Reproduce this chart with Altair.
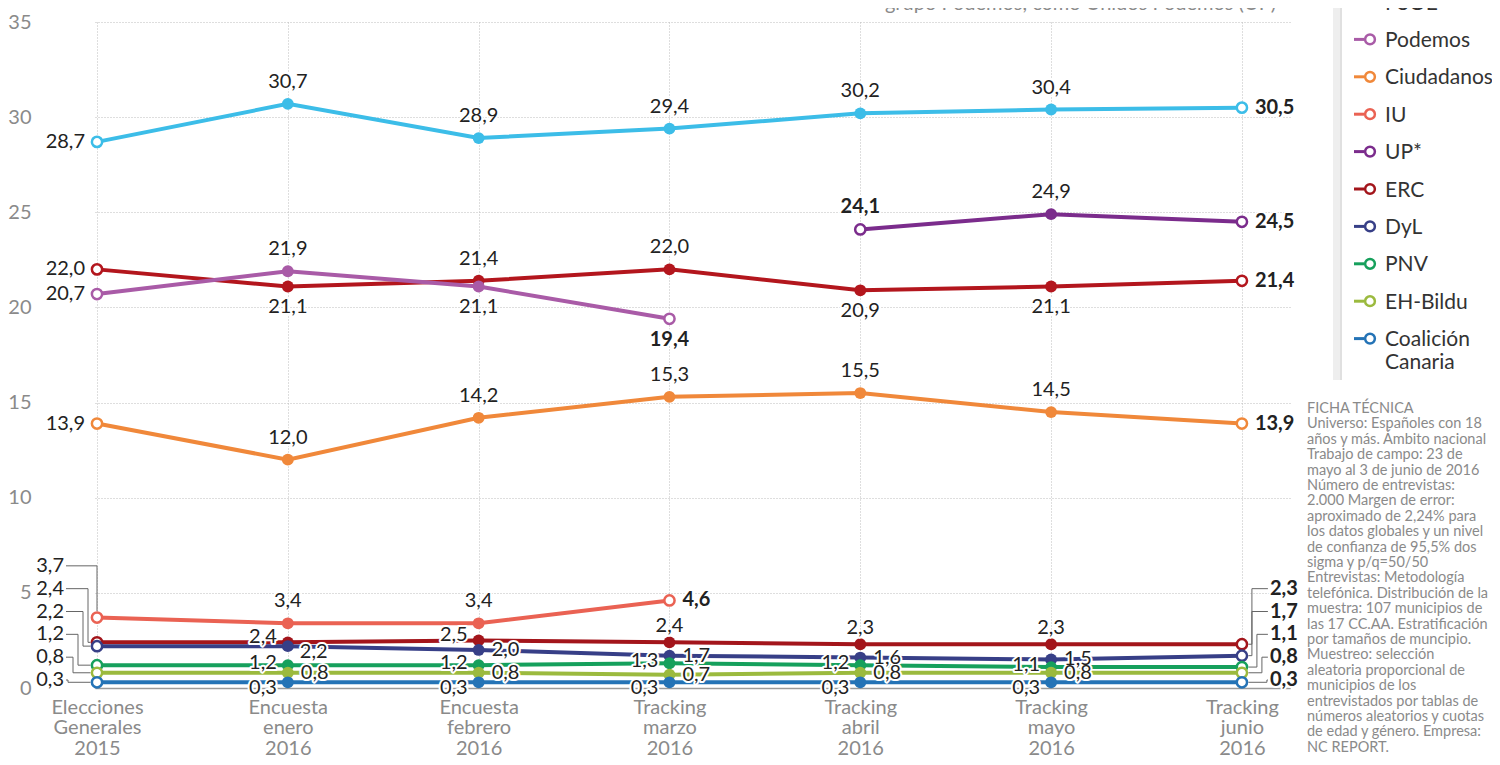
import json
import altair as alt
import pandas as pd

# ---------------- data ----------------
categories = [
    ["Elecciones", "Generales", "2015"],
    ["Encuesta", "enero", "2016"],
    ["Encuesta", "febrero", "2016"],
    ["Tracking", "marzo", "2016"],
    ["Tracking", "abril", "2016"],
    ["Tracking", "mayo", "2016"],
    ["Tracking", "junio", "2016"],
]
parties = ["PP", "PSOE", "Podemos", "Ciudadanos", "IU", "UP*", "ERC", "DyL",
           "PNV", "EH-Bildu", "Coalición Canaria"]
legend_labels = ["PP", "PSOE", "Podemos", "Ciudadanos", "IU", "UP*", "ERC", "DyL",
                 "PNV", "EH-Bildu", "Coalición\nCanaria"]
colors = ["#3cbde8", "#b3161d", "#a95ba7", "#f0883a", "#ea6253", "#7b2c8c",
          "#a3151b", "#373f87", "#16a05c", "#9bba3e", "#2473b6"]

pp = [28.7, 30.7, 28.9, 29.4, 30.2, 30.4, 30.5]
psoe = [22.0, 21.1, 21.4, 22.0, 20.9, 21.1, 21.4]
podemos = [20.7, 21.9, 21.1, 19.4, None, None, None]
ciudadanos = [13.9, 12.0, 14.2, 15.3, 15.5, 14.5, 13.9]
iu = [3.7, 3.4, 3.4, 4.6, None, None, None]
up = [None, None, None, None, 24.1, 24.9, 24.5]
erc = [2.4, 2.4, 2.5, 2.4, 2.3, 2.3, 2.3]
dyl = [2.2, 2.2, 2.0, 1.7, 1.6, 1.5, 1.7]
pnv = [1.2, 1.2, 1.2, 1.3, 1.2, 1.1, 1.1]
bildu = [0.8, 0.8, 0.8, 0.7, 0.8, 0.8, 0.8]
cc = [0.3, 0.3, 0.3, 0.3, 0.3, 0.3, 0.3]
series = dict(zip(parties, [pp, psoe, podemos, ciudadanos, iu, up, erc, dyl, pnv, bildu, cc]))

# label placement (layout only)
place = {
    "PP": ["L", "A", "A", "A", "A", "A", "R"],
    "PSOE": ["L", "B", "A", "A", "B", "B", "R"],
    "Podemos": ["L", "A", "B", "B", None, None, None],
    "Ciudadanos": ["L", "A", "A", "A", "A", "A", "R"],
    "IU": ["LL", "A", "A", "R", None, None, None],
    "UP*": [None, None, None, None, "A", "A", "R"],
    "ERC": ["LL", "Lu", "Lu", "As", "As", "As", "RL"],
    "DyL": ["LL", "Rd", "R", "R", "R", "R", "RL"],
    "PNV": ["LL", "Lc", "Lc", "Lc", "Lc", "Lc", "RL"],
    "EH-Bildu": ["LL", "R", "R", "R", "R", "R", "RL"],
    "Coalición Canaria": ["LL", "Ld", "Ld", "Ld", "Ld", "Ld", "RL"],
}
offsets = {"A": ("center", 0, -22), "As": ("center", 0, -16), "B": ("center", 0, 21),
           "L": ("right", -12, 0), "R": ("left", 13, 0), "Lu": ("right", -11, -5),
           "Lc": ("right", -11, -2), "Ld": ("right", -11, 6), "Rd": ("left", 12, 6)}

subtitle = "grupo Podemos, como Unidos Podemos (UP)"
ficha = ("FICHA TÉCNICA\nUniverso: Españoles con 18\naños y más. Ámbito nacional\n"
         "Trabajo de campo: 23 de\nmayo al 3 de junio de 2016\nNúmero de entrevistas:\n"
         "2.000 Margen de error:\naproximado de 2,24% para\nlos datos globales y un nivel\n"
         "de confianza de 95,5% dos\nsigma y p/q=50/50\nEntrevistas: Metodología\n"
         "telefónica. Distribución de la\nmuestra: 107 municipios de\nlas 17 CC.AA. Estratificación\n"
         "por tamaños de muncipio.\nMuestreo: selección\naleatoria proporcional de\n"
         "municipios de los\nentrevistados por tablas de\nnúmeros aleatorios y cuotas\n"
         "de edad y género. Empresa:\nNC REPORT.")

# ---------------- geometry ----------------
W, H = 1195, 666
XMIN, XMAX = -0.0105, 6.252
PXX = W / (XMAX - XMIN)
PXY = H / 35.0
FONT = "Lato"

def fmt(v):
    return f"{v:.1f}".replace(".", ",")

rows, labels, leaders = [], [], []
for p in parties:
    vals = series[p]
    idxs = [i for i, v in enumerate(vals) if v is not None]
    first, last = idxs[0], idxs[-1]
    for i in idxs:
        v = vals[i]
        bold = (i == last) or (p == "UP*" and i == first)
        rows.append(dict(party=p, x=i, y=v, end=i in (first, last)))
        pl = place[p][i]
        if pl in offsets:
            al, dx, dy = offsets[pl]
            labels.append(dict(x=i + dx / PXX, y=v - dy / PXY, t=fmt(v), align=al, bold=bold))

df = pd.DataFrame(rows)

# stacked leader labels
for side in ("LL", "RL"):
    col = 0 if side == "LL" else 6
    grp = [(p, series[p][col]) for p in parties if place[p][col] == side]
    grp.sort(key=lambda t: -t[1])
    n = len(grp)
    for k, (p, v) in enumerate(grp):
        slot = 0.42 + (n - 1 - k) * 1.2
        lid = f"{side}{k}"
        if side == "LL":
            labels.append(dict(x=-33 / PXX, y=slot, t=fmt(v), align="right", bold=False))
            if k == 0:
                pts = [(-31 / PXX, slot), (0, slot), (0, v + 6.5 / PXY)]
            else:
                ex = -(4 + 5 * k) / PXX
                pts = [(-31 / PXX, slot), (ex, slot), (ex, v), (-6.5 / PXX, v)]
        else:
            labels.append(dict(x=6 + 28 / PXX, y=slot, t=fmt(v), align="left", bold=True))
            ex = 6 + (10 + 5 * max(0, k - 1)) / PXX
            pts = [(6 + 26 / PXX, slot), (ex, slot), (ex, v), (6 + 6.5 / PXX, v)]
        for s, (lx, ly) in enumerate(pts):
            leaders.append(dict(lid=lid, s=s, x=lx, y=ly))

lab_df = pd.DataFrame(labels)
lead_df = pd.DataFrame(leaders)

# ---------------- encodings ----------------
xexpr = json.dumps(categories) + "[datum.value]"
X = alt.X("x:Q", scale=alt.Scale(domain=[XMIN, XMAX], nice=False, zero=False),
          axis=alt.Axis(values=list(range(7)), labelExpr=xexpr, grid=True, gridDash=[1, 2],
                        gridColor="#bdbdbd", ticks=False, domain=True, domainColor="#9a9a9a",
                        domainWidth=1.5, labelFontSize=20, labelColor="#8a8a8a", labelFont=FONT,
                        labelPadding=9, labelLineHeight=20.5, labelOverlap=False,
                        labelFlush=False, title=None))
Y = alt.Y("y:Q", scale=alt.Scale(domain=[0, 35], nice=False),
          axis=alt.Axis(values=list(range(0, 36, 5)), grid=True, gridDash=[1, 2],
                        gridColor="#bdbdbd", ticks=False, domain=False, labelPadding=64,
                        labelFontSize=20, labelColor="#8a8a8a", labelFont=FONT, title=None))
cscale = alt.Scale(domain=parties, range=colors)

lead = alt.Chart(lead_df).mark_line(color="#666", strokeWidth=1).encode(
    x=X, y=Y, detail="lid:N", order="s:Q")
lines = alt.Chart(df).mark_line(strokeWidth=4).encode(
    x=X, y=Y, color=alt.Color("party:N", scale=cscale, legend=None), detail="party:N", order="x:Q")
mid = alt.Chart(df[~df["end"]]).mark_circle(size=140, opacity=1).encode(
    x=X, y=Y, color=alt.Color("party:N", scale=cscale, legend=None))
ends = alt.Chart(df[df["end"]]).mark_circle(size=105, opacity=1, fill="white", strokeWidth=2.5).encode(
    x=X, y=Y, stroke=alt.Stroke("party:N", scale=cscale, legend=None))

label_layers = []
for al in ("left", "center", "right"):
    for b in (False, True):
        sub = lab_df[(lab_df["align"] == al) & (lab_df["bold"] == b)]
        if len(sub) == 0:
            continue
        base = alt.Chart(sub)
        kw = dict(align=al, baseline="middle", fontSize=20, font=FONT,
                  fontWeight="bold" if b else "normal")
        label_layers.append(base.mark_text(stroke="white", strokeWidth=4, strokeJoin="round",
                                           color="white", **kw).encode(x=X, y=Y, text="t:N"))
        label_layers.append(base.mark_text(color="#222", **kw).encode(x=X, y=Y, text="t:N"))

# legend (manual)
leg_df = pd.DataFrame(dict(party=parties, lab=legend_labels, r=list(range(len(parties)))))
leg_base = alt.Chart(leg_df).transform_calculate(py="-20 + (datum.r - 1) * 37.4")
leg_stub = leg_base.mark_rule(strokeWidth=3).encode(
    x=alt.value(1259), x2=alt.value(1269), y=alt.Y("py:Q", scale=None),
    color=alt.Color("party:N", scale=cscale, legend=None))
leg_sym = leg_base.mark_circle(size=95, opacity=1, fill="white", strokeWidth=2.5).encode(
    x=alt.value(1275), y=alt.Y("py:Q", scale=None),
    stroke=alt.Stroke("party:N", scale=cscale, legend=None))
leg_txt = leg_base.mark_text(align="left", baseline="alphabetic", dy=7.5, fontSize=21,
                             font=FONT, color="#333", lineBreak="\n", lineHeight=23).encode(
    x=alt.value(1290), y=alt.Y("py:Q", scale=None), text="lab:N")
shadow = alt.Chart(pd.DataFrame({"a": [0]})).mark_rule(color="#eeeeee", strokeWidth=8).encode(
    x=alt.value(1242), y=alt.value(-14), y2=alt.value(358))
shadow2 = alt.Chart(pd.DataFrame({"a": [0]})).mark_rule(color="#e0e0e0", strokeWidth=2).encode(
    x=alt.value(1246), y=alt.value(-14), y2=alt.value(358))

sub_txt = alt.Chart(pd.DataFrame({"t": [subtitle]})).mark_text(
    align="right", baseline="alphabetic", fontSize=20, font=FONT, color="#8a8a8a").encode(
    x=alt.value(1181), y=alt.value(-12), text="t:N")
ficha_txt = alt.Chart(pd.DataFrame({"t": [ficha]})).mark_text(
    align="left", baseline="top", fontSize=14.5, font=FONT, color="#8a8a8a",
    lineBreak="\n", lineHeight=15.4).encode(
    x=alt.value(1212), y=alt.value(380), text="t:N")

chart = alt.layer(lead, lines, mid, ends, *label_layers, shadow, shadow2,
                  leg_stub, leg_sym, leg_txt, sub_txt, ficha_txt).properties(
    width=W, height=H,
    autosize=alt.AutoSizeParams(type="none"),
    padding={"left": 87, "top": 14, "right": 202, "bottom": 69},
    background="white",
).configure_view(stroke=None)

chart.save("out.html", embed_options={"renderer": "svg", "actions": False})
